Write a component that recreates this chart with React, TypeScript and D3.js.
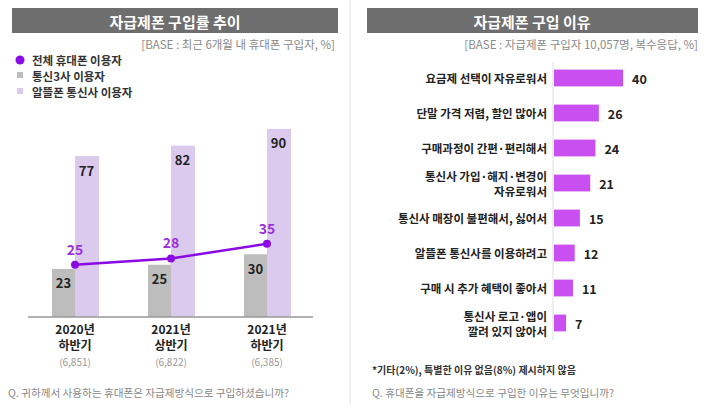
import React from "react";
import * as d3 from "d3";

const periods = ["2020년 하반기", "2021년 상반기", "2021년 하반기"];
const periodYear = ["2020년", "2021년", "2021년"];
const periodHalf = ["하반기", "상반기", "하반기"];
const periodBase = ["(6,851)", "(6,822)", "(6,385)"];
const totalUsers = [25, 28, 35];
const telecom3Users = [23, 25, 30];
const mvnoUsers = [77, 82, 90];

const legendLabels = ["전체 휴대폰 이용자", "통신3사 이용자", "알뜰폰 통신사 이용자"];

const reasons = [
  "요금제 선택이 자유로워서",
  "단말 가격 저렴, 할인 많아서",
  "구매과정이 간편·편리해서",
  "통신사 가입·해지·변경이\n자유로워서",
  "통신사 매장이 불편해서, 싫어서",
  "알뜰폰 통신사를 이용하려고",
  "구매 시 추가 혜택이 좋아서",
  "통신사 로고·앱이\n깔려 있지 않아서",
];
const reasonValues = [40, 26, 24, 21, 15, 12, 11, 7];

const FONT = "'Noto Sans CJK KR', 'Noto Sans', sans-serif";

export default function App() {
  const yL = d3.scaleLinear().domain([0, 100]).range([317, 108]);
  const xL = d3.scaleBand<string>().domain(periods).range([27, 315]).padding(0);
  const barW = 23;
  const center = (p: string) => (xL(p) as number) + xL.bandwidth() / 2;
  const linePts: [number, number][] = periods.map((p, i) => [center(p), yL(totalUsers[i])]);
  const lineGen = d3.line();

  const xR = d3.scaleLinear().domain([0, 40]).range([554, 623]);
  const yR = d3.scaleBand<string>().domain(reasons).range([60.5, 340.5]).paddingInner(0.52).paddingOuter(0.26);

  const lilac = "#dccaee";
  const gray = "#bdbdbd";
  const purple = "#8a0ae6";
  const magenta = "#c94ff0";

  return (
    <svg
      width={709}
      height={413}
      style={{ position: "absolute", left: 0, top: 0, background: "#fff", fontFamily: FONT }}
    >
      <rect x={0} y={0} width={709} height={413} fill="#fff" />
      <line x1={350} x2={350} y1={0} y2={405} stroke="#ececec" strokeWidth={1.5} />

      {/* LEFT PANEL */}
      <rect x={12} y={8} width={326} height={25} fill="#6e6e6e" />
      <text x={175} y={21} textAnchor="middle" dominantBaseline="central" fill="#fff" fontSize={15} fontWeight={700}>
        자급제폰 구입률 추이
      </text>
      <text x={335} y={44} textAnchor="end" dominantBaseline="central" fill="#8a8a8a" fontSize={11.5}>
        [BASE : 최근 6개월 내 휴대폰 구입자, %]
      </text>

      <circle cx={20} cy={60} r={4.5} fill={purple} />
      <rect x={17} y={72} width={6} height={6} fill={gray} />
      <rect x={17} y={88} width={6} height={6} fill={lilac} />
      {legendLabels.map((l, i) => (
        <text key={l} x={32} y={60 + i * 16} dominantBaseline="central" fontSize={11.5} fontWeight={700} fill="#333">
          {l}
        </text>
      ))}

      {periods.map((p, i) => {
        const c = center(p);
        return (
          <g key={p}>
            <rect x={c - barW} y={yL(telecom3Users[i])} width={barW} height={yL(0) - yL(telecom3Users[i])} fill={gray} />
            <rect x={c} y={yL(mvnoUsers[i])} width={barW + 1} height={yL(0) - yL(mvnoUsers[i])} fill={lilac} />
            <text x={c - barW / 2} y={yL(telecom3Users[i]) + 14} textAnchor="middle" dominantBaseline="central" fontSize={13} fontWeight={700} fill="#222">
              {telecom3Users[i]}
            </text>
            <text x={c + barW / 2} y={yL(mvnoUsers[i]) + 14} textAnchor="middle" dominantBaseline="central" fontSize={13} fontWeight={700} fill="#222">
              {mvnoUsers[i]}
            </text>
          </g>
        );
      })}
      <line x1={28} x2={313} y1={317} y2={317} stroke="#999" strokeWidth={1.5} />

      <path d={lineGen(linePts) || ""} fill="none" stroke={purple} strokeWidth={2.5} />
      {linePts.map(([x, y], i) => (
        <g key={i}>
          <circle cx={x} cy={y} r={4} fill={purple} />
          <text x={x} y={y - 16} textAnchor="middle" dominantBaseline="central" fontSize={14} fontWeight={700} fill="#9b30dc">
            {totalUsers[i]}
          </text>
        </g>
      ))}

      {periods.map((p, i) => {
        const c = center(p);
        return (
          <g key={"xl" + p}>
            <text x={c} y={328} textAnchor="middle" dominantBaseline="central" fontSize={12} fontWeight={700} fill="#222">
              {periodYear[i]}
            </text>
            <text x={c} y={344} textAnchor="middle" dominantBaseline="central" fontSize={12} fontWeight={700} fill="#222">
              {periodHalf[i]}
            </text>
            <text x={c} y={361} textAnchor="middle" dominantBaseline="central" fontSize={10} fill="#999">
              {periodBase[i]}
            </text>
          </g>
        );
      })}
      <text x={8} y={392} dominantBaseline="central" fontSize={10.6} fill="#888">
        Q. 귀하께서 사용하는 휴대폰은 자급제방식으로 구입하셨습니까?
      </text>

      {/* RIGHT PANEL */}
      <rect x={367} y={8} width={331} height={25} fill="#6e6e6e" />
      <text x={532} y={21} textAnchor="middle" dominantBaseline="central" fill="#fff" fontSize={15} fontWeight={700}>
        자급제폰 구입 이유
      </text>
      <text x={698} y={44} textAnchor="end" dominantBaseline="central" fill="#8a8a8a" fontSize={11.5}>
        [BASE : 자급제폰 구입자 10,057명, 복수응답, %]
      </text>

      <line x1={553} x2={553} y1={62} y2={340} stroke="#ddd" strokeWidth={1} />
      {reasons.map((r, i) => {
        const y0 = yR(r) as number;
        const h = yR.bandwidth();
        const cy = y0 + h / 2;
        const lines = r.split("\n");
        return (
          <g key={r}>
            <rect x={xR(0)} y={y0} width={xR(reasonValues[i]) - xR(0)} height={h} fill={magenta} />
            <text x={xR(reasonValues[i]) + 9} y={cy} dominantBaseline="central" fontSize={12.5} fontWeight={700} fill="#222">
              {reasonValues[i]}
            </text>
            {lines.map((ln, j) => (
              <text
                key={j}
                x={547}
                y={cy + (j - (lines.length - 1) / 2) * 15}
                textAnchor="end"
                dominantBaseline="central"
                fontSize={11.5}
                fontWeight={700}
                fill="#222"
              >
                {ln}
              </text>
            ))}
          </g>
        );
      })}
      <text x={372} y={369} dominantBaseline="central" fontSize={10} fontWeight={700} fill="#333">
        *기타(2%), 특별한 이유 없음(8%) 제시하지 않음
      </text>
      <text x={372} y={392} dominantBaseline="central" fontSize={10.6} fill="#888">
        Q. 휴대폰을 자급제방식으로 구입한 이유는 무엇입니까?
      </text>
    </svg>
  );
}
